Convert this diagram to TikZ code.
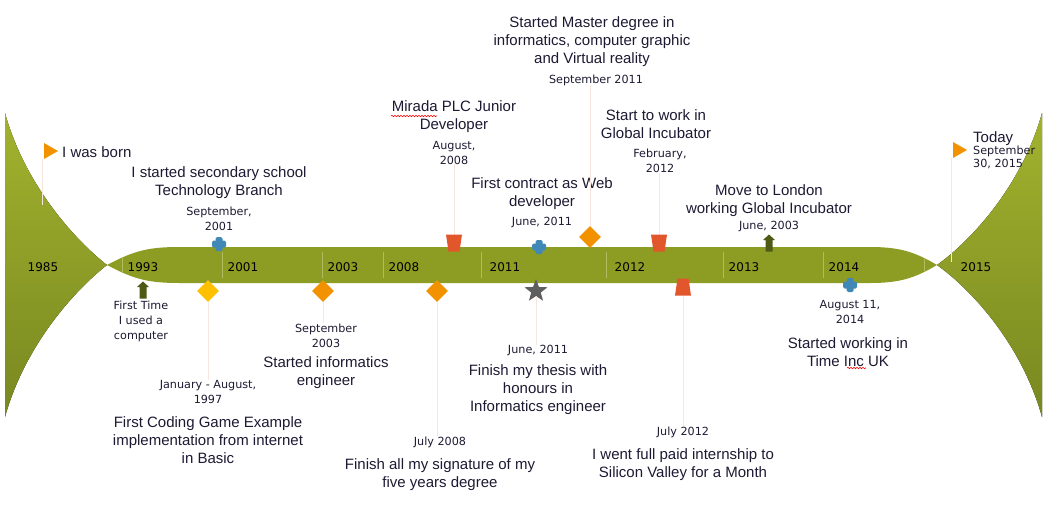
\documentclass[tikz,border=0pt]{standalone}
\usepackage{fontspec}
\setmainfont{Liberation Sans}
\newfontfamily\datefont{DejaVu Sans}
\usetikzlibrary{shapes.geometric,decorations.pathmorphing}

\definecolor{olivebar}{RGB}{141,157,36}
\definecolor{olivetop}{RGB}{162,178,46}
\definecolor{olivebot}{RGB}{120,136,32}
\definecolor{tickc}{RGB}{176,187,98}
\definecolor{txt}{RGB}{30,25,50}
\definecolor{orangec}{RGB}{243,146,0}
\definecolor{yellowc}{RGB}{255,192,0}
\definecolor{redc}{RGB}{226,86,43}
\definecolor{bluec}{RGB}{64,136,182}
\definecolor{starc}{RGB}{95,95,95}
\definecolor{arrowc}{RGB}{78,90,22}
\definecolor{leadc}{RGB}{248,230,222}

\tikzset{
  lbl/.style={font=\fontsize{15}{18}\selectfont, text=txt, align=center, inner sep=0pt},
  dt/.style={font=\datefont\fontsize{11.2}{15}\selectfont, text=txt, align=center, inner sep=0pt},
  yr/.style={font=\datefont\fontsize{12}{14}\selectfont, text=black, inner sep=0pt},
  ticksty/.style={draw=tickc, line width=1pt},
  leader/.style={draw=leadc, line width=1pt},
  dia/.style={diamond, minimum size=22pt, inner sep=0pt},
  starmk/.style={star, star points=5, star point ratio=2.4, minimum size=24pt, inner sep=0pt, fill=starc},
  squig/.style={draw=red, line width=0.6pt, decorate, decoration={snake, amplitude=0.7pt, segment length=3pt}},
  plusmark/.pic={
    \fill[bluec, rounded corners=1.5pt] (-3.5,-7) rectangle (3.5,7);
    \fill[bluec, rounded corners=1.5pt] (-7,-3.5) rectangle (7,3.5);
  },
  flagmark/.pic={\fill[orangec] (-7,-8) -- (7,0) -- (-7,8) -- cycle;},
  trapdown/.pic={\fill[redc] (-8,-8.5) -- (8,-8.5) -- (5.5,8.5) -- (-5.5,8.5) -- cycle;},
  trapup/.pic={\fill[redc] (-5.5,-8.5) -- (5.5,-8.5) -- (8,8.5) -- (-8,8.5) -- cycle;},
  arrowup/.pic={\fill[arrowc] (0,-8.5) -- (6,-3) -- (3.5,-3) -- (3.5,8.5) -- (-3.5,8.5) -- (-3.5,-3) -- (-6,-3) -- cycle;}
}

\begin{document}
\begin{tikzpicture}[x=1pt,y=-1pt]
\useasboundingbox (0,0) rectangle (1047,512);

% big side shapes
\fill[top color=olivetop, bottom color=olivebot]
  (5,113) .. controls (25,185) and (75,240) .. (107,265)
  .. controls (75,290) and (25,345) .. (5,417) -- cycle;
\fill[top color=olivetop, bottom color=olivebot]
  (1042,113) .. controls (1022,185) and (972,240) .. (937,265)
  .. controls (972,290) and (1022,345) .. (1042,417) -- cycle;

% main bar
\fill[olivebar] (107,265) .. controls (135,250) and (150,247) .. (180,247)
  -- (870,247) .. controls (900,247) and (915,252) .. (937,265)
  .. controls (915,278) and (900,283) .. (870,283)
  -- (180,283) .. controls (150,283) and (135,280) .. (107,265) -- cycle;

% ticks
\foreach \tx in {222,322,383,481,606,723,823}
  \draw[ticksty] (\tx,252) -- (\tx,278);
\draw[ticksty] (122,258) -- (122,273);
\draw[ticksty] (924,259) -- (924,271);

% years
\node[yr] (y1985) at (43,267) {1985};
\node[yr] (y1993) at (143,267) {1993};
\node[yr] (y2001) at (243,267) {2001};
\node[yr] (y2003) at (343,267) {2003};
\node[yr] (y2008) at (404,267) {2008};
\node[yr] (y2011) at (505,267) {2011};
\node[yr] (y2012) at (630,267) {2012};
\node[yr] (y2013) at (744,267) {2013};
\node[yr] (y2014) at (844,267) {2014};
\node[yr] (y2015) at (976,267) {2015};

% marker positions
\coordinate (fborn) at (51,151);
\coordinate (ftoday) at (960,150);
\coordinate (pl1) at (219,244);
\coordinate (pl2) at (539,247);
\coordinate (pl3) at (850,285);
\coordinate (tr1) at (454,243);
\coordinate (tr2) at (659,243);
\coordinate (tr3) at (683,287);
\coordinate (ar1) at (143,290);
\coordinate (ar2) at (769,243);
\coordinate (fbEnd) at (42,205);
\coordinate (ftEnd) at (951,262);

% texts
\node[lbl, anchor=west] (born) at (62,152) {I was born};
\node[lbl] (sec) at (219,183) {I started secondary school\\Technology Branch};
\node[dt] (d2001) at (219,218.5) {September,\\2001};
\node[dt] (first) at (141,321.5) {First Time\\I used a\\computer};
\node[dt] (d1997) at (208,391.5) {January - August,\\1997};
\node[lbl] (coding) at (208,440) {First Coding Game Example\\implementation from internet\\in Basic};
\node[dt] (d2003) at (326,335.5) {September\\2003};
\node[lbl] (inf) at (326,373) {Started informatics\\engineer};
\node[dt] (d2008b) at (440,442) {July 2008};
\node[lbl] (sig) at (440,475) {Finish all my signature of my\\five years degree};
\node[dt] (d2011b) at (538,350) {June, 2011};
\node[lbl] (thesis) at (538,390) {Finish my thesis with\\honours in\\Informatics engineer};
\node[dt] (d2012b) at (683,432) {July 2012};
\node[lbl] (intern) at (683,465) {I went full paid internship to\\Silicon Valley for a Month};
\node[dt] (d2014) at (850,311.5) {August 11,\\2014};
\node[lbl] (timeinc) at (848,352) {Started working in\\Time Inc UK};
\node[lbl] (mirada) at (454,117) {Mirada PLC Junior\\Developer};
\node[dt] (d2008a) at (454,152.5) {August,\\2008};
\node[lbl] (contract) at (542,194) {First contract as Web\\developer};
\node[dt] (d2011a) at (542,222) {June, 2011};
\node[lbl] (master) at (592,42) {Started Master degree in\\informatics, computer graphic\\and Virtual reality};
\node[dt] (d2011m) at (596,80) {September 2011};
\node[lbl] (global) at (656,124) {Start to work in\\Global Incubator};
\node[dt] (d2012a) at (660,160.5) {February,\\2012};
\node[lbl] (london) at (769,201) {Move to London\\working Global Incubator};
\node[dt] (d2003b) at (769,226) {June, 2003};
\node[lbl, anchor=west] (today) at (973,139) {Today};
\node[dt, anchor=west, align=left, font=\datefont\fontsize{11.2}{13}\selectfont] (dtoday) at (973,157.5) {September\\30, 2015};

% spell-check squiggles
\draw[squig] (391,116) -- (437,116);
\draw[squig] (847,368) -- (866,368);

% markers
\node[dia, fill=yellowc] (dy) at (208,291) {};
\node[dia, fill=orangec] (do1) at (323,291) {};
\node[dia, fill=orangec] (do2) at (437,291) {};
\node[dia, fill=orangec] (do3) at (590,237) {};
\node[starmk] (st) at (536,291) {};

% leaders
\draw[leader] ([shift={(-9,8)}]fborn) -- (fbEnd);
\draw[leader] ([shift={(-9,8)}]ftoday) -- (ftEnd);
\draw[leader] (dy.south) -- (dy.south |- d1997.north);
\draw[leader] (do1.south) -- (do1.south |- d2003.north);
\draw[leader] (do2.south) -- (do2.south |- d2008b.north);
\draw[leader] (st.south) -- (st.south |- d2011b.north);
\draw[leader] ([yshift=-8.5pt]tr3) -- (tr3 |- d2012b.north);
\draw[leader] ([yshift=8.5pt]tr1) -- (tr1 |- d2008a.south);
\draw[leader] ([yshift=8.5pt]tr2) -- (tr2 |- d2012a.south);
\draw[leader] (do3.north) -- (do3.north |- d2011m.south);

\pic at (fborn) {flagmark};
\pic at (ftoday) {flagmark};
\pic at (pl1) {plusmark};
\pic at (pl2) {plusmark};
\pic at (pl3) {plusmark};
\pic at (tr1) {trapdown};
\pic at (tr2) {trapdown};
\pic at (tr3) {trapup};
\pic at (ar1) {arrowup};
\pic at (ar2) {arrowup};
\end{tikzpicture}
\end{document}
